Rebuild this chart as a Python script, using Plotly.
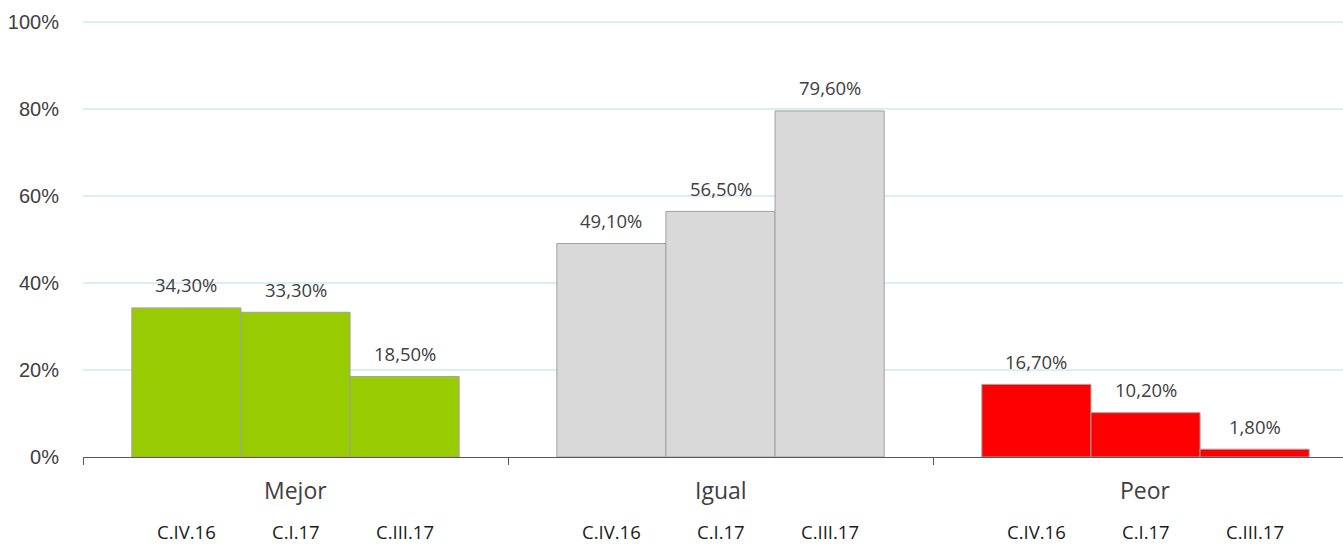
import plotly.graph_objects as go

groups = ["Mejor", "Igual", "Peor"]
periods = ["C.IV.16", "C.I.17", "C.III.17"]
values = {
    "C.IV.16": [34.3, 49.1, 16.7],
    "C.I.17": [33.3, 56.5, 10.2],
    "C.III.17": [18.5, 79.6, 1.8],
}
group_colors = ["#99CC00", "#D9D9D9", "#FF0000"]
y_ticks = [0, 20, 40, 60, 80, 100]
y_tick_text = ["0%", "20%", "40%", "60%", "80%", "100%"]

bar_w = 0.2567
gx = list(range(len(groups)))

fig = go.Figure()
annotations = []
for j, p in enumerate(periods):
    off = (j - 1) * bar_w
    xs = [g + off for g in gx]
    fig.add_trace(go.Bar(
        x=xs, y=values[p], width=bar_w, name=p,
        marker=dict(color=group_colors, line=dict(color="#A0A0A0", width=1)),
        showlegend=False, hoverinfo="skip",
    ))
    for x, v in zip(xs, values[p]):
        annotations.append(dict(
            x=x, y=v, xref="x", yref="y", text=f"{v:.2f}%".replace(".", ","),
            showarrow=False, yshift=23, yanchor="middle",
            font=dict(family="Open Sans", size=18.5, color="#404040"),
        ))
        annotations.append(dict(
            x=x, y=-0.171, xref="x", yref="paper", text=p,
            showarrow=False, yanchor="middle",
            font=dict(family="Open Sans", size=18.5, color="#1a1a1a"),
        ))
for g, name in zip(gx, groups):
    annotations.append(dict(
        x=g, y=-0.076, xref="x", yref="paper", text=name,
        showarrow=False, yanchor="middle",
        font=dict(family="Open Sans", size=23, color="#404040"),
    ))

fig.update_layout(
    width=1343, height=546,
    margin=dict(l=83, r=0, t=21, b=89),
    paper_bgcolor="white", plot_bgcolor="white",
    font=dict(family="Liberation Sans", color="#404040"),
    annotations=annotations,
    xaxis=dict(
        range=[-0.5, -0.5 + 1260 / 425], tickvals=[-0.5, 0.5, 1.5],
        ticks="outside", ticklen=7, tickcolor="#595959", showticklabels=False,
        showline=True, linecolor="#595959", linewidth=1, showgrid=False, zeroline=False,
    ),
    yaxis=dict(
        range=[0, 100.3], tickmode="array", tickvals=y_ticks, ticktext=y_tick_text,
        showgrid=True, gridcolor="#DAEEF3", gridwidth=2, zeroline=False,
        tickfont=dict(family="Liberation Sans", size=20, color="#404040"),
        ticks="outside", ticklen=19, tickcolor="rgba(0,0,0,0)",
    ),
)
fig.write_html("out.html", config={"displayModeBar": False},
               post_script="document.body.style.margin='0';")
